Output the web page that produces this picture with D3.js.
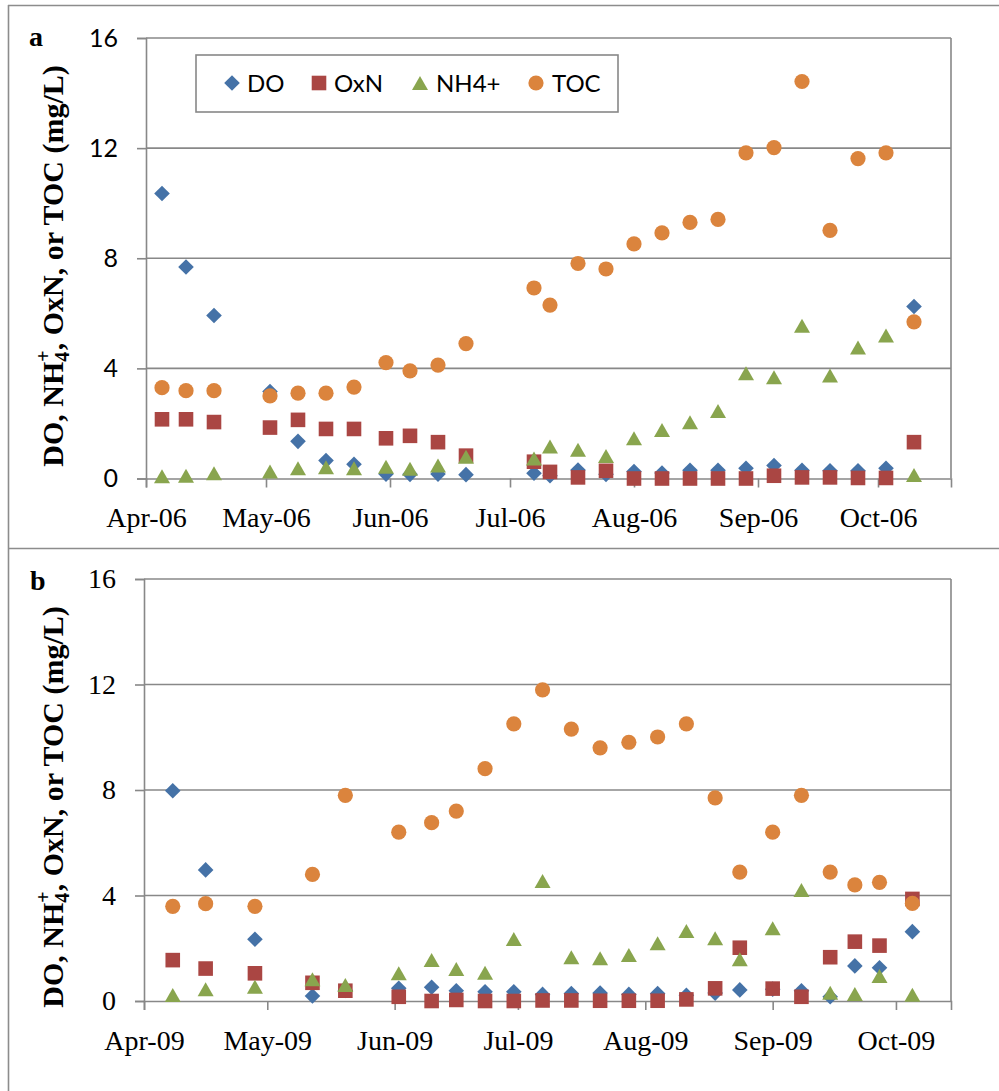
<!DOCTYPE html>
<html>
<head>
<meta charset="utf-8">
<script src="https://cdnjs.cloudflare.com/ajax/libs/d3/7.8.5/d3.min.js"></script>
<style>
  html, body { margin: 0; padding: 0; background: #fff; }
  svg { display: block; }
</style>
</head>
<body>
<svg id="chart" width="999" height="1091"></svg>
<script>
// ---------------- DATA ----------------
const seriesNames = ["DO", "OxN", "NH4+", "TOC"];
const yTicks = [0, 4, 8, 12, 16];

// Panel a (2006)
const datesA = ["2006-04-05","2006-04-11","2006-04-18","2006-05-02","2006-05-09","2006-05-16","2006-05-23","2006-05-31",
  "2006-06-06","2006-06-13","2006-06-20","2006-07-07","2006-07-11","2006-07-18","2006-07-25","2006-08-01","2006-08-08",
  "2006-08-15","2006-08-22","2006-08-29","2006-09-05","2006-09-12","2006-09-19","2006-09-26","2006-10-03","2006-10-10"];
const doA   = [10.35, 7.68, 5.92, 3.16, 1.35, 0.65, 0.52, 0.16, 0.15, 0.16, 0.14, 0.19, 0.10, 0.31, 0.15, 0.25, 0.20, 0.30, 0.30, 0.37, 0.47, 0.30, 0.28, 0.28, 0.37, 6.25];
const oxnA  = [2.15, 2.15, 2.05, 1.85, 2.13, 1.80, 1.80, 1.46, 1.55, 1.32, 0.83, 0.61, 0.24, 0.04, 0.28, 0.00, 0.00, 0.00, 0.00, 0.00, 0.10, 0.04, 0.04, 0.02, 0.02, 1.32];
const nh4A  = [0.08, 0.10, 0.19, 0.25, 0.37, 0.41, 0.37, 0.43, 0.35, 0.47, 0.79, 0.73, 1.16, 1.04, 0.82, 1.46, 1.76, 2.04, 2.45, 3.82, 3.68, 5.55, 3.74, 4.76, 5.19, 0.13];
const tocA  = [3.30, 3.19, 3.19, 3.00, 3.10, 3.10, 3.32, 4.21, 3.91, 4.12, 4.90, 6.92, 6.30, 7.81, 7.61, 8.52, 8.92, 9.30, 9.41, 11.83, 12.02, 14.42, 9.01, 11.62, 11.83, 5.69];
const monthLabelsA = ["Apr-06","May-06","Jun-06","Jul-06","Aug-06","Sep-06","Oct-06"];

// Panel b (2009)
const datesB = ["2009-04-08","2009-04-16","2009-04-28","2009-05-12","2009-05-20","2009-06-02","2009-06-10","2009-06-16",
  "2009-06-23","2009-06-30","2009-07-07","2009-07-14","2009-07-21","2009-07-28","2009-08-04","2009-08-11","2009-08-18",
  "2009-08-24","2009-09-01","2009-09-08","2009-09-15","2009-09-21","2009-09-27","2009-10-05"];
const doB   = [7.97, 4.97, 2.34, 0.19, 0.40, 0.48, 0.52, 0.39, 0.35, 0.35, 0.25, 0.28, 0.30, 0.25, 0.28, 0.22, 0.30, 0.42, 0.45, 0.39, 0.16, 1.33, 1.26, 2.63];
const oxnB  = [1.55, 1.23, 1.05, 0.69, 0.39, 0.16, 0.00, 0.04, 0.00, 0.00, 0.02, 0.02, 0.01, 0.01, 0.01, 0.06, 0.48, 2.02, 0.47, 0.16, 1.66, 2.25, 2.10, 3.87];
const nh4B  = [0.23, 0.45, 0.54, 0.82, 0.61, 1.05, 1.55, 1.21, 1.07, 2.35, 4.55, 1.66, 1.62, 1.74, 2.19, 2.65, 2.38, 1.58, 2.76, 4.21, 0.31, 0.27, 0.95, 0.24];
const tocB  = [3.59, 3.69, 3.59, 4.80, 7.80, 6.40, 6.76, 7.20, 8.81, 10.51, 11.80, 10.31, 9.60, 9.81, 10.01, 10.51, 7.70, 4.89, 6.40, 7.80, 4.89, 4.40, 4.50, 3.70];
const monthLabelsB = ["Apr-09","May-09","Jun-09","Jul-09","Aug-09","Sep-09","Oct-09"];

// ---------------- STYLE ----------------
const colors = ["#4572A7", "#AA4643", "#89A54E", "#DB843D"];
const gridColor = "#888888";
const serif = "'Liberation Serif', 'Times New Roman', serif";
const sans = "Lato, 'Open Sans', sans-serif";

const svg = d3.select("#chart");
const parse = d3.timeParse("%Y-%m-%d");

// marker path generators (centered on bounding box)
function markerPath(kind) {
  if (kind === 0) return "M0,-7.8L7.8,0L0,7.8L-7.8,0Z";          // diamond
  if (kind === 1) return "M-7.3,-7.3H7.3V7.3H-7.3Z";              // square
  if (kind === 2) return "M0,-7L8,7H-8Z";                          // triangle
  return d3.arc()({innerRadius: 0, outerRadius: 7.6, startAngle: 0, endAngle: 2 * Math.PI}); // circle
}

// ---------------- OUTER FRAME ----------------
const frame = svg.append("g").attr("stroke", "#8c8c8c").attr("stroke-width", 1.6).attr("fill", "none");
frame.append("line").attr("x1", 8).attr("x2", 999).attr("y1", 5.5).attr("y2", 5.5);
frame.append("line").attr("x1", 8.5).attr("x2", 8.5).attr("y1", 5).attr("y2", 1091);
frame.append("line").attr("x1", 8).attr("x2", 999).attr("y1", 548.5).attr("y2", 548.5);

// ---------------- PANEL ----------------
function drawPanel(cfg) {
  const g = svg.append("g");
  const x = d3.scaleTime().domain([cfg.start, cfg.end]).range([cfg.left, cfg.right]);
  const y = d3.scaleLinear().domain([0, 16]).range([cfg.bottom, cfg.top]);

  // gridlines
  g.append("g").selectAll("line").data(yTicks.filter(t => t > 0)).join("line")
    .attr("x1", cfg.left).attr("x2", cfg.right)
    .attr("y1", d => y(d)).attr("y2", d => y(d))
    .attr("stroke", gridColor).attr("stroke-width", 1.6);
  // right border of plot area
  g.append("line").attr("x1", cfg.right).attr("x2", cfg.right).attr("y1", y(16)).attr("y2", y(0))
    .attr("stroke", gridColor).attr("stroke-width", 1.6);

  // y axis
  const yAxis = d3.axisLeft(y).tickValues(yTicks).tickSize(9).tickPadding(19).tickFormat(d3.format("d"));
  const ya = g.append("g").attr("transform", `translate(${cfg.left},0)`).call(yAxis);
  ya.select(".domain").attr("stroke", gridColor).attr("stroke-width", 1.6);
  ya.selectAll(".tick line").attr("stroke", gridColor).attr("stroke-width", 1.6);
  ya.selectAll(".tick text").attr("font-family", d => cfg.yFontFn(d)).attr("font-size", d => cfg.ySizeFn(d)).attr("fill", "#000");

  // x axis
  const monthTicks = cfg.monthLabels.map(s => d3.timeParse("%b-%y")(s));
  const xAxis = d3.axisBottom(x).tickValues(monthTicks).tickSize(9).tickPadding(20)
    .tickFormat((d, i) => cfg.monthLabels[i]);
  const xa = g.append("g").attr("transform", `translate(0,${cfg.bottom})`).call(xAxis);
  xa.select(".domain").attr("stroke", gridColor).attr("stroke-width", 1.6);
  xa.selectAll(".tick line").attr("stroke", gridColor).attr("stroke-width", 1.6);
  xa.selectAll(".tick text").attr("font-family", serif).attr("font-size", 28).attr("fill", "#000");

  // series
  const allSeries = [cfg.doV, cfg.oxn, cfg.nh4, cfg.toc];
  allSeries.forEach((vals, k) => {
    const pts = cfg.dates.map((d, i) => ({ t: parse(d), v: vals[i] }));
    g.append("g").selectAll("path").data(pts).join("path")
      .attr("d", markerPath(k))
      .attr("transform", d => `translate(${x(d.t)},${y(d.v)})`)
      .attr("fill", colors[k]);
  });

  // panel letter
  g.append("text").attr("x", cfg.letterX).attr("y", cfg.letterY)
    .attr("font-family", serif).attr("font-weight", "bold").attr("font-size", 28).text(cfg.letter);

  // y title
  const t = g.append("text")
    .attr("transform", `translate(${63},${cfg.titleY}) rotate(-90)`)
    .attr("text-anchor", "middle")
    .attr("font-family", serif).attr("font-weight", "bold").attr("font-size", 30).attr("fill", "#000");
  t.append("tspan").text("DO, NH");
  t.append("tspan").attr("font-size", 20).attr("dy", 6).text("4");
  t.append("tspan").attr("font-size", 20).attr("dx", -10).attr("dy", -19).text("+");
  t.append("tspan").attr("dy", 13).text(", OxN, or TOC (mg/L)");

  return g;
}

const dayMs = 86400000;
drawPanel({
  top: 38, bottom: 478.5, left: 146, right: 951,
  start: new Date(2006, 3, 1), end: new Date(new Date(2006, 3, 1).getTime() + 201.25 * dayMs),
  monthLabels: monthLabelsA, dates: datesA, doV: doA, oxn: oxnA, nh4: nh4A, toc: tocA,
  yFontFn: d => sans, ySizeFn: d => 25,
  letter: "a", letterX: 29, letterY: 46, titleY: 266
});
drawPanel({
  top: 579, bottom: 1001, left: 144, right: 951,
  start: new Date(2009, 3, 1), end: new Date(new Date(2009, 3, 1).getTime() + 196.4 * dayMs),
  monthLabels: monthLabelsB, dates: datesB, doV: doB, oxn: oxnB, nh4: nh4B, toc: tocB,
  yFontFn: d => serif, ySizeFn: d => 28,
  letter: "b", letterX: 30, letterY: 590, titleY: 807
});

// ---------------- LEGEND (panel a) ----------------
const lg = svg.append("g");
lg.append("rect").attr("x", 196).attr("y", 55).attr("width", 422).attr("height", 57)
  .attr("fill", "#fff").attr("stroke", gridColor).attr("stroke-width", 1.6);
const legendMarkerX = [232, 319, 420, 536];
const legendTextX = [247, 334, 436, 552];
seriesNames.forEach((name, k) => {
  lg.append("path").attr("d", markerPath(k)).attr("transform", `translate(${legendMarkerX[k]},83)`).attr("fill", colors[k]);
  lg.append("text").attr("x", legendTextX[k]).attr("y", 92).attr("font-family", sans).attr("font-size", 24).text(name);
});
</script>
</body>
</html>
